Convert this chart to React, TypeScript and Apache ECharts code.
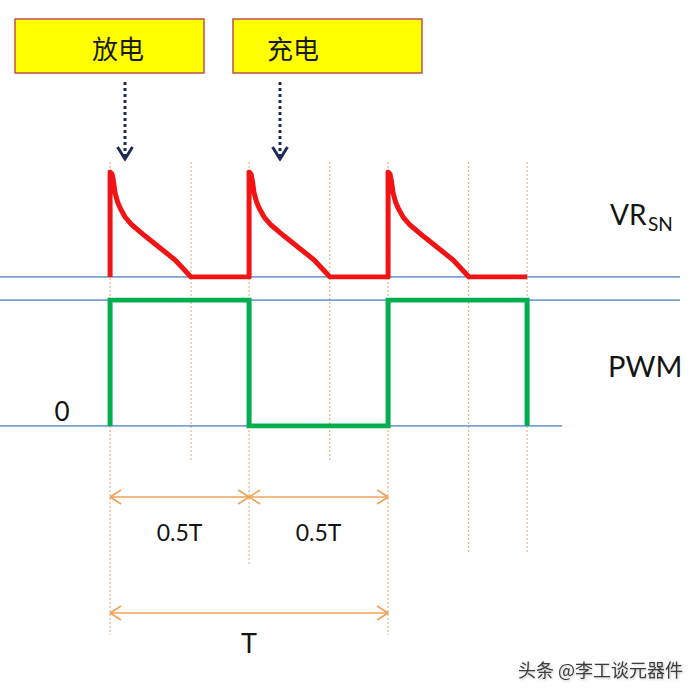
import React, { useEffect, useRef } from "react";
import * as echarts from "echarts";

// time axis in units of the PWM period T (0 = first rising edge)
const X_MIN = -0.396;
const X_MAX = 2.122;

// VR_SN decay shape after each spike (t offset in T, normalised level)
const decayT = [0, 0.0072, 0.0126, 0.018, 0.027, 0.036, 0.054, 0.079, 0.126, 0.18, 0.234, 0.291];
const decayV = [1, 0.98, 0.905, 0.8, 0.714, 0.657, 0.571, 0.495, 0.39, 0.276, 0.162, 0];
const pulseStarts = [0, 0.5, 1.0];
const vrEnd = 1.5;

// PWM waveform
const pwmT = [0, 0, 0.5, 0.5, 1, 1, 1.5, 1.5];
const pwmV = [0, 1, 1, 0, 0, 1, 1, 0];

// reference (blue) lines: [grid, level, tEnd]
const refLines = [
  { grid: 0, level: 0, tEnd: 2.05 },
  { grid: 1, level: 1, tEnd: 2.05 },
  { grid: 1, level: 0, tEnd: 1.626 },
];

// dotted timing markers
const markT = [0, 0.291, 0.5, 0.79, 1.0, 1.29, 1.5];
const markBottom = [635, 462, 565, 462, 635, 553, 553];
const MARK_TOP = 162;

// dimension arrows
const dims = [
  { from: 0, to: 0.5, y: 497, label: "0.5T", labelY: 532 },
  { from: 0.5, to: 1.0, y: 497, label: "0.5T", labelY: 532 },
  { from: 0, to: 1.0, y: 613, label: "T", labelY: 642 },
];

const boxLabels = ["放电", "充电"];
const signalNames = ["VR", "SN", "PWM", "0"];
const watermark = "头条 @李工谈元器件";

const LATIN = "Lato, 'Open Sans', sans-serif";
const CJK = "'Noto Sans CJK SC', sans-serif";

export default function App() {
  const ref = useRef<HTMLDivElement>(null);
  useEffect(() => {
    document.body.style.margin = "0";
    if (!ref.current) return;
    const chart = echarts.init(ref.current, null, { renderer: "svg" });

    const W = 700;
    const pxPerT = W / (X_MAX - X_MIN);
    const headDx = 11 / pxPerT;
    const headDy = 7;

    const vrData: number[][] = [[0, 0]];
    pulseStarts.forEach((s) => {
      vrData.push([s, 0]);
      decayT.forEach((t, i) => vrData.push([s + t, decayV[i]]));
    });
    vrData.push([vrEnd, 0]);

    const pwmData = pwmT.map((t, i) => [t, pwmV[i]]);

    const series: any[] = [];
    refLines.forEach((r) => {
      series.push({
        type: "line",
        xAxisIndex: r.grid,
        yAxisIndex: r.grid,
        data: [
          [X_MIN, r.level],
          [r.tEnd, r.level],
        ],
        symbol: "none",
        lineStyle: { color: "#4f81bd", width: 1.4 },
        z: 2,
        silent: true,
      });
    });
    markT.forEach((t, i) => {
      series.push({
        type: "line",
        xAxisIndex: 2,
        yAxisIndex: 2,
        data: [
          [t, MARK_TOP],
          [t, markBottom[i]],
        ],
        symbol: "none",
        lineStyle: { color: "#e3a56e", width: 1, type: [2, 2] },
        z: 1,
        silent: true,
      });
    });
    dims.forEach((d) => {
      const base = {
        type: "line",
        xAxisIndex: 2,
        yAxisIndex: 2,
        symbol: "none",
        lineStyle: { color: "#f2a257", width: 1.6 },
        z: 4,
        silent: true,
      };
      series.push({ ...base, data: [[d.from, d.y], [d.to, d.y]] });
      series.push({
        ...base,
        data: [
          [d.from + headDx, d.y - headDy],
          [d.from, d.y],
          [d.from + headDx, d.y + headDy],
        ],
      });
      series.push({
        ...base,
        data: [
          [d.to - headDx, d.y - headDy],
          [d.to, d.y],
          [d.to - headDx, d.y + headDy],
        ],
      });
    });
    series.push({
      type: "line",
      xAxisIndex: 0,
      yAxisIndex: 0,
      data: vrData,
      symbol: "none",
      lineStyle: { color: "#f21414", width: 5, join: "round" },
      z: 5,
    });
    series.push({
      type: "line",
      xAxisIndex: 1,
      yAxisIndex: 1,
      data: pwmData,
      symbol: "none",
      lineStyle: { color: "#00ae4f", width: 5, join: "miter" },
      z: 5,
    });

    const xAxisBase = { type: "value", min: X_MIN, max: X_MAX, show: false };
    const arrowX = [125, 280];
    const graphic: any[] = [];
    boxLabels.forEach((lab, i) => {
      const bx = i === 0 ? 15 : 233;
      graphic.push({
        type: "rect",
        shape: { x: bx, y: 19, width: 189, height: 54 },
        style: { fill: "#ffff00", stroke: "#c0504d", lineWidth: 1.5 },
        z: 10,
      });
      graphic.push({
        type: "text",
        x: i === 0 ? 118 : 293,
        y: 47,
        style: {
          text: lab,
          font: `26px ${CJK}`,
          fill: "#1a1a1a",
          align: "center",
          verticalAlign: "middle",
        },
        z: 11,
      });
      const ax = arrowX[i];
      graphic.push({
        type: "line",
        shape: { x1: ax, y1: 82, x2: ax, y2: 156 },
        style: { stroke: "#1f2a5a", lineWidth: 3, lineDash: [3, 3] },
        z: 10,
      });
      graphic.push({
        type: "polyline",
        shape: { points: [[ax - 7.5, 147], [ax, 159], [ax + 7.5, 147]] },
        style: { stroke: "#1f2a5a", lineWidth: 3, fill: null },
        z: 10,
      });
    });
    const txt = (text: string, x: number, y: number, size: number, align = "left") => ({
      type: "text",
      x,
      y,
      style: {
        text,
        font: `${size}px ${LATIN}`,
        fill: "#141414",
        align,
        verticalAlign: "middle",
      },
      z: 11,
    });
    graphic.push(txt(signalNames[0], 610, 214, 28));
    graphic.push(txt(signalNames[1], 648, 223, 19));
    graphic.push(txt(signalNames[2], 608, 365, 29));
    graphic.push(txt(signalNames[3], 62, 411, 26, "center"));
    dims.forEach((d) => {
      const cx = ((d.from + d.to) / 2 - X_MIN) * pxPerT;
      graphic.push(txt(d.label, cx, d.labelY, d.label === "T" ? 27 : 23, "center"));
    });
    graphic.push({
      type: "text",
      x: 683,
      y: 669,
      style: {
        text: watermark,
        font: `18px ${CJK}`,
        fill: "#3c3c3c",
        align: "right",
        verticalAlign: "middle",
        textShadowColor: "rgba(0,0,0,0.25)",
        textShadowBlur: 2,
        textShadowOffsetX: 1,
        textShadowOffsetY: 1,
      },
      z: 11,
    });

    chart.setOption({
      animation: false,
      backgroundColor: "#ffffff",
      grid: [
        { left: 0, right: 0, top: 172, height: 105 },
        { left: 0, right: 0, top: 300, height: 126 },
        { left: 0, right: 0, top: 0, bottom: 0 },
      ],
      xAxis: [
        { ...xAxisBase, gridIndex: 0 },
        { ...xAxisBase, gridIndex: 1 },
        { ...xAxisBase, gridIndex: 2 },
      ],
      yAxis: [
        { type: "value", gridIndex: 0, min: 0, max: 1, show: false },
        { type: "value", gridIndex: 1, min: 0, max: 1, show: false },
        { type: "value", gridIndex: 2, min: 0, max: 693, inverse: true, show: false },
      ],
      series,
      graphic,
    });
    return () => chart.dispose();
  }, []);
  return <div ref={ref} style={{ width: 700, height: 693 }} />;
}
